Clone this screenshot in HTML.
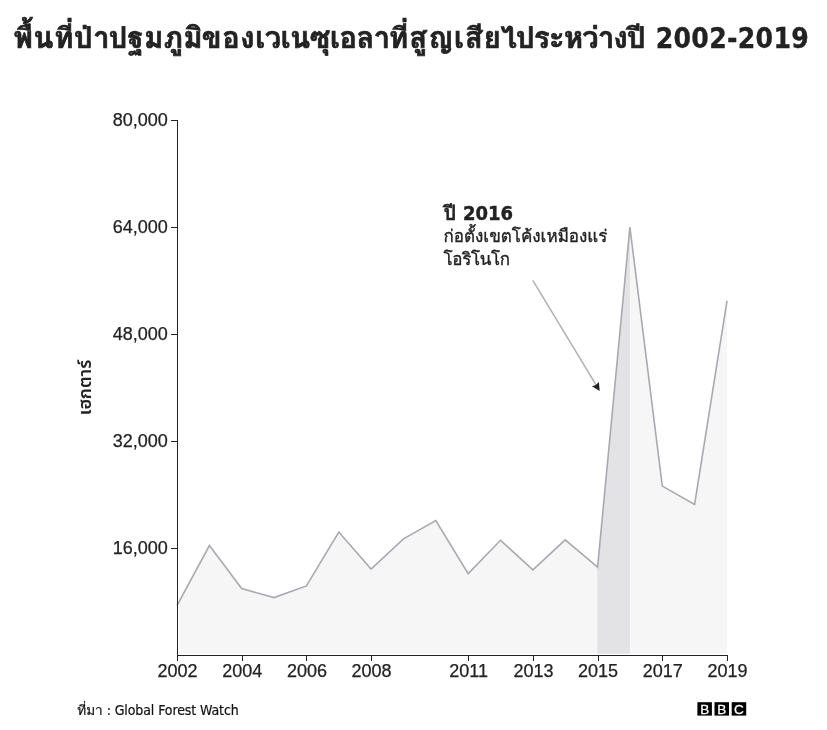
<!DOCTYPE html>
<html lang="th">
<head>
<meta charset="utf-8">
<title>พื้นที่ป่าปฐมภูมิของเวเนซุเอลาที่สูญเสียไประหว่างปี 2002-2019</title>
<style>
html,body{margin:0;padding:0;background:#fff;}
body{width:827px;height:730px;position:relative;overflow:hidden;font-family:"Liberation Sans","Loma","Noto Sans Thai Looped",sans-serif;color:#222;}
svg{position:absolute;left:0;top:0;display:block;}
.th{font-family:"Loma","Noto Sans Thai Looped","Liberation Sans",sans-serif;}
.dv{font-family:"DejaVu Sans Condensed","DejaVu Sans","Liberation Sans",sans-serif;}
.tick{font-family:"Liberation Sans",sans-serif;font-size:18px;fill:#222;stroke:#222;stroke-width:0.25px;}
h1{position:absolute;left:0;top:16px;margin:0;font-size:28px;line-height:44px;font-weight:bold;white-space:nowrap;color:#222;}
h1 .th{position:absolute;top:0;font-size:29px;-webkit-text-stroke:0.7px #222;}
h1 .dv{position:absolute;left:646.6px;white-space:pre;top:0.5px;letter-spacing:0.3px;-webkit-text-stroke:0.3px #222;}
.src{position:absolute;left:77.2px;top:698px;font-size:14px;line-height:24px;white-space:nowrap;color:#111;-webkit-text-stroke:0.2px #111;}
.src .th{font-size:13.6px;}
.src .dv{letter-spacing:-0.1px;}
</style>
</head>
<body>
<h1><span class="th" style="left:13.64px;letter-spacing:0.8px">พื้นที่ป่า</span><span class="th" style="left:108.8px;letter-spacing:0.5px">ปฐมภูมิ</span><span class="th" style="left:201.67px;letter-spacing:0.66px">ของ</span><span class="th" style="left:255.19px;letter-spacing:-0.355px">เวเนซุเอลา</span><span class="th" style="left:389.1px;letter-spacing:1.116px">ที่สูญเสีย</span><span class="th" style="left:500.74px;letter-spacing:-0.835px">ไป</span><span class="th" style="left:534.1px;letter-spacing:-0.675px">ระหว่าง</span><span class="th" style="left:627.1px;letter-spacing:0px">ปี</span><span class="dv"> 2002-2019</span></h1>
<svg width="827" height="730" viewBox="0 0 827 730">
<defs>
<clipPath id="plot"><rect x="179.2" y="100" width="547.8" height="553.8"/></clipPath>
<clipPath id="under"><polygon points="177.0,605.6 209.4,545.6 241.7,588.6 274.1,597.6 306.4,585.9 338.8,532.0 371.1,569.0 403.5,538.8 435.8,520.5 468.2,573.6 500.5,540.3 532.9,569.8 565.2,539.8 597.6,567.2 629.9,227.2 662.3,486.1 694.6,504.4 727.0,300.9 727.0,655.5 177.0,655.5"/></clipPath>
</defs>
<g clip-path="url(#plot)">
<polygon points="177.0,605.6 209.4,545.6 241.7,588.6 274.1,597.6 306.4,585.9 338.8,532.0 371.1,569.0 403.5,538.8 435.8,520.5 468.2,573.6 500.5,540.3 532.9,569.8 565.2,539.8 597.6,567.2 629.9,227.2 662.3,486.1 694.6,504.4 727.0,300.9 727.0,655.5 177.0,655.5" fill="#f6f6f6"/>
<g clip-path="url(#under)"><rect x="597.3" y="100" width="32.6" height="560" fill="#e3e3e6"/></g>
</g>
<polyline points="177.0,605.6 209.4,545.6 241.7,588.6 274.1,597.6 306.4,585.9 338.8,532.0 371.1,569.0 403.5,538.8 435.8,520.5 468.2,573.6 500.5,540.3 532.9,569.8 565.2,539.8 597.6,567.2 629.9,227.2 662.3,486.1 694.6,504.4 727.0,300.9" fill="none" stroke="#a9a9b0" stroke-width="1.6" stroke-linejoin="miter"/>
<g stroke="#222" stroke-width="1" fill="none" shape-rendering="crispEdges">
<path d="M171,120.5H177.5V655.5H727.5"/>
<path d="M171,227.5H177.5"/>
<path d="M171,334.5H177.5"/>
<path d="M171,441.5H177.5"/>
<path d="M171,548.5H177.5"/>
<path d="M177.5,655.5V661"/>
<path d="M242.2,655.5V661"/>
<path d="M306.9,655.5V661"/>
<path d="M371.6,655.5V661"/>
<path d="M468.7,655.5V661"/>
<path d="M533.4,655.5V661"/>
<path d="M598.1,655.5V661"/>
<path d="M662.8,655.5V661"/>
<path d="M727.5,655.5V661"/>
</g>
<g class="tick" text-anchor="end">
<text x="167.9" y="126.26">80,000</text>
<text x="167.9" y="233.26">64,000</text>
<text x="167.9" y="340.26">48,000</text>
<text x="167.9" y="447.26">32,000</text>
<text x="167.9" y="554.26">16,000</text>
</g>
<g class="tick" text-anchor="middle">
<text x="177.5" y="677.3">2002</text>
<text x="242.2" y="677.3">2004</text>
<text x="306.9" y="677.3">2006</text>
<text x="371.6" y="677.3">2008</text>
<text x="468.7" y="677.3">2011</text>
<text x="533.4" y="677.3">2013</text>
<text x="598.1" y="677.3">2015</text>
<text x="662.8" y="677.3">2017</text>
<text x="727.5" y="677.3">2019</text>
</g>
<text class="ylab" transform="translate(90.6,387.5) rotate(-90)" text-anchor="middle" font-family="'Noto Sans Thai','IBM Plex Sans Thai','Loma',sans-serif" font-size="18" font-weight="600" fill="#222">เฮกตาร์</text>
<line x1="532.8" y1="280.3" x2="596.2" y2="385.2" stroke="#b0b0b0" stroke-width="1.5"/>
<polygon points="599.7,390.9 591.9,386.2 595.9,384.9 598.9,382.0" fill="#222"/>
<text class="th" x="443.5" y="219.6" font-size="20" font-weight="bold" fill="#222" stroke="#222" stroke-width="0.4">ปี <tspan class="dv">2016</tspan></text>
<text class="th" x="443.5" y="242.1" font-size="17" fill="#222" stroke="#222" stroke-width="0.35">ก่อตั้งเขตโค้งเหมืองแร่</text>
<text class="th" x="443.6" y="265" font-size="17" letter-spacing="-0.35" fill="#222" stroke="#222" stroke-width="0.35">โอริโนโก</text>
<g>
<rect x="697.4" y="702.2" width="14.5" height="13.4" fill="#000"/>
<rect x="714.5" y="702.2" width="14.5" height="13.4" fill="#000"/>
<rect x="731.7" y="702.2" width="14.5" height="13.4" fill="#000"/>
<g font-family="'Liberation Sans',sans-serif" font-size="13.6" fill="#fff" stroke="#fff" stroke-width="0.3" text-anchor="middle">
<text x="704.7" y="713.8">B</text><text x="721.8" y="713.8">B</text><text x="739" y="713.8">C</text>
</g>
</g>
</svg>
<div class="src"><span class="th">ที่มา</span><span class="dv"> : Global Forest Watch</span></div>
</body>
</html>
